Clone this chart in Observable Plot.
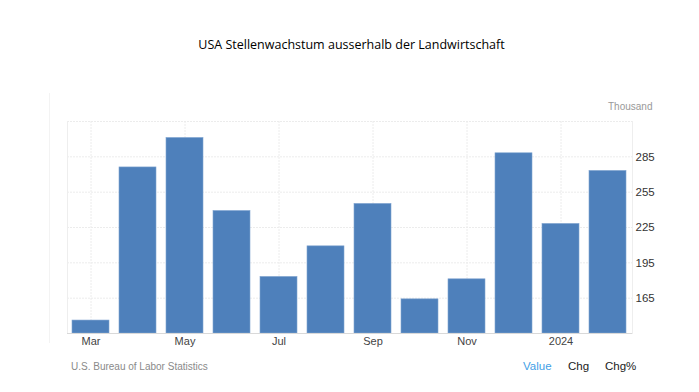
<!DOCTYPE html>
<html>
<head>
<meta charset="utf-8">
<script src="https://cdn.jsdelivr.net/npm/d3@7"></script>
<script src="https://cdn.jsdelivr.net/npm/@observablehq/plot@0.6"></script>
<style>
  html, body { margin: 0; padding: 0; background: #fff; }
  #wrap { position: relative; width: 699px; height: 392px; overflow: hidden; font-family: "Open Sans", "Noto Sans", sans-serif; }
  #title { position: absolute; left: 2px; top: 0; width: 699px; height: 90px; line-height: 90px; text-align: center; font-size: 12.5px; color: #000; }
  #chart { position: absolute; left: 0; top: 90px; }
  #leftline { position: absolute; left: 49px; top: 93px; width: 1px; height: 250px; background: #f3f3f3; }
  #source { position: absolute; left: 71px; top: 361px; font-family: Arial, "Liberation Sans", sans-serif; font-size: 10px; color: #8a8a8a; }
  .tab { position: absolute; top: 360px; font-family: Arial, "Liberation Sans", sans-serif; font-size: 11.5px; }
</style>
</head>
<body>
<div id="wrap">
  <div id="title">USA Stellenwachstum ausserhalb der Landwirtschaft</div>
  <div id="leftline"></div>
  <div id="chart"></div>
  <div id="source">U.S. Bureau of Labor Statistics</div>
  <div class="tab" style="left:523px;color:#3fa0e6;">Value</div>
  <div class="tab" style="left:568px;color:#222;">Chg</div>
  <div class="tab" style="left:605px;color:#222;">Chg%</div>
</div>
<script>
const months = ["2023-03","2023-04","2023-05","2023-06","2023-07","2023-08","2023-09","2023-10","2023-11","2023-12","2024-01","2024-02"];
const values = [146, 276, 301, 239, 183, 209, 245, 164, 181, 288, 228, 273];
const tickMonths = ["2023-03","2023-05","2023-07","2023-09","2023-11","2024-01"];
const tickLabels = ["Mar","May","Jul","Sep","Nov","2024"];
const yTicks = [165, 195, 225, 255, 285];
const unitLabel = ["Thousand"];

const data = months.map((m, i) => ({month: m, value: values[i]}));
const labelOf = new Map(tickMonths.map((m, i) => [m, tickLabels[i]]));

const chart = Plot.plot({
  width: 699,
  height: 260,
  marginTop: 31,
  marginBottom: 17,
  marginLeft: 67,
  marginRight: 67,
  style: {fontFamily: "Arial, 'Liberation Sans', sans-serif", background: "transparent"},
  x: {domain: months, paddingInner: 0.21, paddingOuter: 0.11, label: null},
  y: {domain: [135, 315], label: null},
  marks: [
    Plot.gridY([165, 195, 225, 255, 285, 315], {stroke: "#ececec", strokeOpacity: 1, strokeDasharray: "2,1"}),
    Plot.gridX(tickMonths, {stroke: "#ececec", strokeOpacity: 1, strokeDasharray: "2,1"}),
    Plot.frame({anchor: "left", stroke: "#eeeeee", strokeOpacity: 1}),
    Plot.frame({anchor: "right", stroke: "#eeeeee", strokeOpacity: 1}),
    Plot.barY(data, {x: "month", y1: 135, y2: "value", fill: "#4e80bb", stroke: "#7fa3d0", strokeWidth: 0.6}),
    Plot.ruleY([135], {stroke: "#d9d9d9"}),
    Plot.axisX(tickMonths, {tickSize: 0, tickPadding: 4, tickFormat: d => labelOf.get(d), fontSize: 11, fill: "#444", label: null}),
    Plot.axisY(yTicks, {anchor: "right", tickSize: 0, tickPadding: 3, fontSize: 11.5, fill: "#333", label: null}),
    Plot.text(unitLabel, {text: d => d, frameAnchor: "top-right", textAnchor: "end", dx: 20, dy: -19, fill: "#999", fontSize: 10})
  ]
});
document.getElementById("chart").appendChild(chart);
</script>
</body>
</html>
